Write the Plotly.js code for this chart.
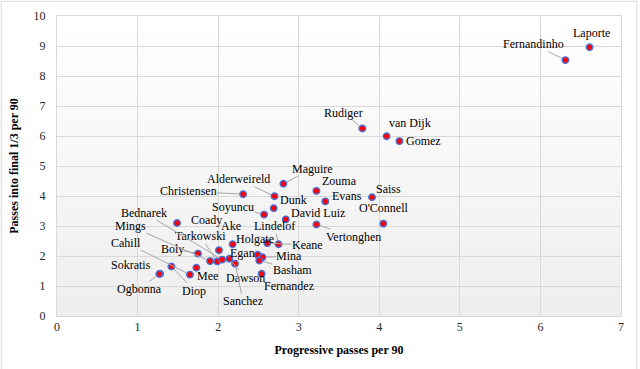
<!DOCTYPE html>
<html>
<head>
<meta charset="utf-8">
<script src="https://cdn.plot.ly/plotly-3.0.1.min.js"></script>
<style>html,body{margin:0;padding:0;background:#fff;}#chart{width:640px;height:369px;}</style>
</head>
<body>
<div id="chart"></div>
<script>
// ---- data ----
var players = ["Laporte","Fernandinho","Rudiger","van Dijk","Gomez","Maguire","Zouma","Evans","Saiss","O'Connell",
  "Christensen","Alderweireld","Dunk","Soyuncu","David Luiz","Vertonghen","Coady","Ake","Keane","Lindelof",
  "Egan","Boly","Mings","Tarkowski","Bednarek","Dawson","Sanchez","Mee","Cahill","Diop",
  "Sokratis","Ogbonna","Holgate","Mina","Basham","Fernandez"];
var progressivePasses = [6.61,6.31,3.79,4.09,4.25,2.81,3.22,3.33,3.91,4.05,
  2.31,2.70,2.69,2.57,2.84,3.22,1.49,2.18,2.61,2.75,
  2.01,1.75,1.90,1.99,2.05,2.14,2.21,1.73,1.65,1.42,
  1.28,1.27,2.49,2.55,2.51,2.54];
var finalThirdPasses = [8.96,8.53,6.25,5.99,5.83,4.41,4.17,3.82,3.96,3.08,
  4.06,3.99,3.59,3.38,3.22,3.05,3.10,2.39,2.43,2.39,
  2.19,2.08,1.83,1.82,1.88,1.91,1.74,1.61,1.38,1.65,
  1.41,1.40,2.04,1.96,1.85,1.41];
var xTicks = [0,1,2,3,4,5,6,7];
var yTicks = [0,1,2,3,4,5,6,7,8,9,10];

// ---- label placement (layout only): [dx px, dy px, leader line] ----
var labelPlacement = [[2,-14,0],[-32,-16,1],[-19,-16,1],[23,-13,0],[24,0,0],[29,-15,1],[23,-10,0],[22,-5,0],[16,-8,0],[0,-16,0],
  [-55,-3,1],[-36,-17,1],[20,-8,0],[-31,-8,1],[32,-6,0],[37,12,1],[29,-3,0],[-2,-18,0],[40,2,1],[-4,-18,1],
  [24,3,0],[-26,-5,1],[-80,-35,1],[-17,-25,1],[-78,-47,1],[16,19,1],[8,37,1],[11,8,0],[-64,-32,1],[23,24,1],
  [-29,-9,0],[-20,15,1],[-3,-16,0],[27,-1,1],[33,9,1],[27,12,0]];

var font = "'Liberation Serif', 'Times New Roman', serif";

var annotations = players.map(function(n,i){
  var p = labelPlacement[i];
  return {x: progressivePasses[i], y: finalThirdPasses[i], xref:'x', yref:'y', text: n,
    showarrow: true, arrowhead: 0, arrowwidth: 1, standoff: 4,
    arrowcolor: p[2] ? '#a6a6a6' : 'rgba(0,0,0,0)',
    ax: p[0], ay: p[1], borderpad: 0,
    font: {family: font, size: 12, color: '#000'}};
});

// gradient plot background
var shapes = [];
var N = 40;
for (var k = 0; k < N; k++) {
  var t = k / (N - 1);
  var c = Math.round(255 - (255 - 238) * (1 - t));
  shapes.push({type:'rect', xref:'paper', yref:'paper', x0:0, x1:1, y0:k/N, y1:(k+1)/N + 0.001,
    fillcolor:'rgb('+c+','+c+','+c+')', line:{width:0}, layer:'below'});
}
// outer chart border
shapes.push({type:'rect', xref:'paper', yref:'paper', x0:-0.099, x1:1.028, y0:-0.3, y1:1.049,
  line:{color:'#d9d9d9', width:1}, fillcolor:'rgba(0,0,0,0)', layer:'below'});

var trace = {
  type:'scatter', mode:'markers',
  x: progressivePasses, y: finalThirdPasses, text: players,
  marker: {size: 6.5, color: '#ff0000', line: {color: '#4a6fd6', width: 1.4}},
  hoverinfo: 'text+x+y'
};

var layout = {
  width: 640, height: 369,
  margin: {l: 57, r: 19, t: 16, b: 53},
  paper_bgcolor: '#ffffff', plot_bgcolor: 'rgba(0,0,0,0)',
  showlegend: false,
  font: {family: font, size: 12, color: '#000'},
  xaxis: {range: [0, 7], tickvals: xTicks, ticktext: xTicks.map(String), showgrid: true, gridcolor: '#d9d9d9',
    zeroline: false, showline: true, linecolor: '#d9d9d9', mirror: true, ticks: '',
    tickfont: {family: font, size: 12, color: '#262626'},
    title: {text: '<b>Progressive passes per 90</b>', font: {family: font, size: 12, color: '#000'}, standoff: 12}},
  yaxis: {range: [0, 10], tickvals: yTicks, ticktext: yTicks.map(String), showgrid: true, gridcolor: '#d9d9d9',
    zeroline: false, showline: true, linecolor: '#d9d9d9', mirror: true, ticks: '', ticklabelstandoff: 8,
    tickfont: {family: font, size: 12, color: '#262626'},
    title: {text: '<b>Passes into final 1/3 per 90</b>', font: {family: font, size: 12, color: '#000'}, standoff: 12}},
  shapes: shapes,
  annotations: annotations
};

Plotly.newPlot('chart', [trace], layout, {staticPlot: true, displayModeBar: false});
</script>
</body>
</html>
